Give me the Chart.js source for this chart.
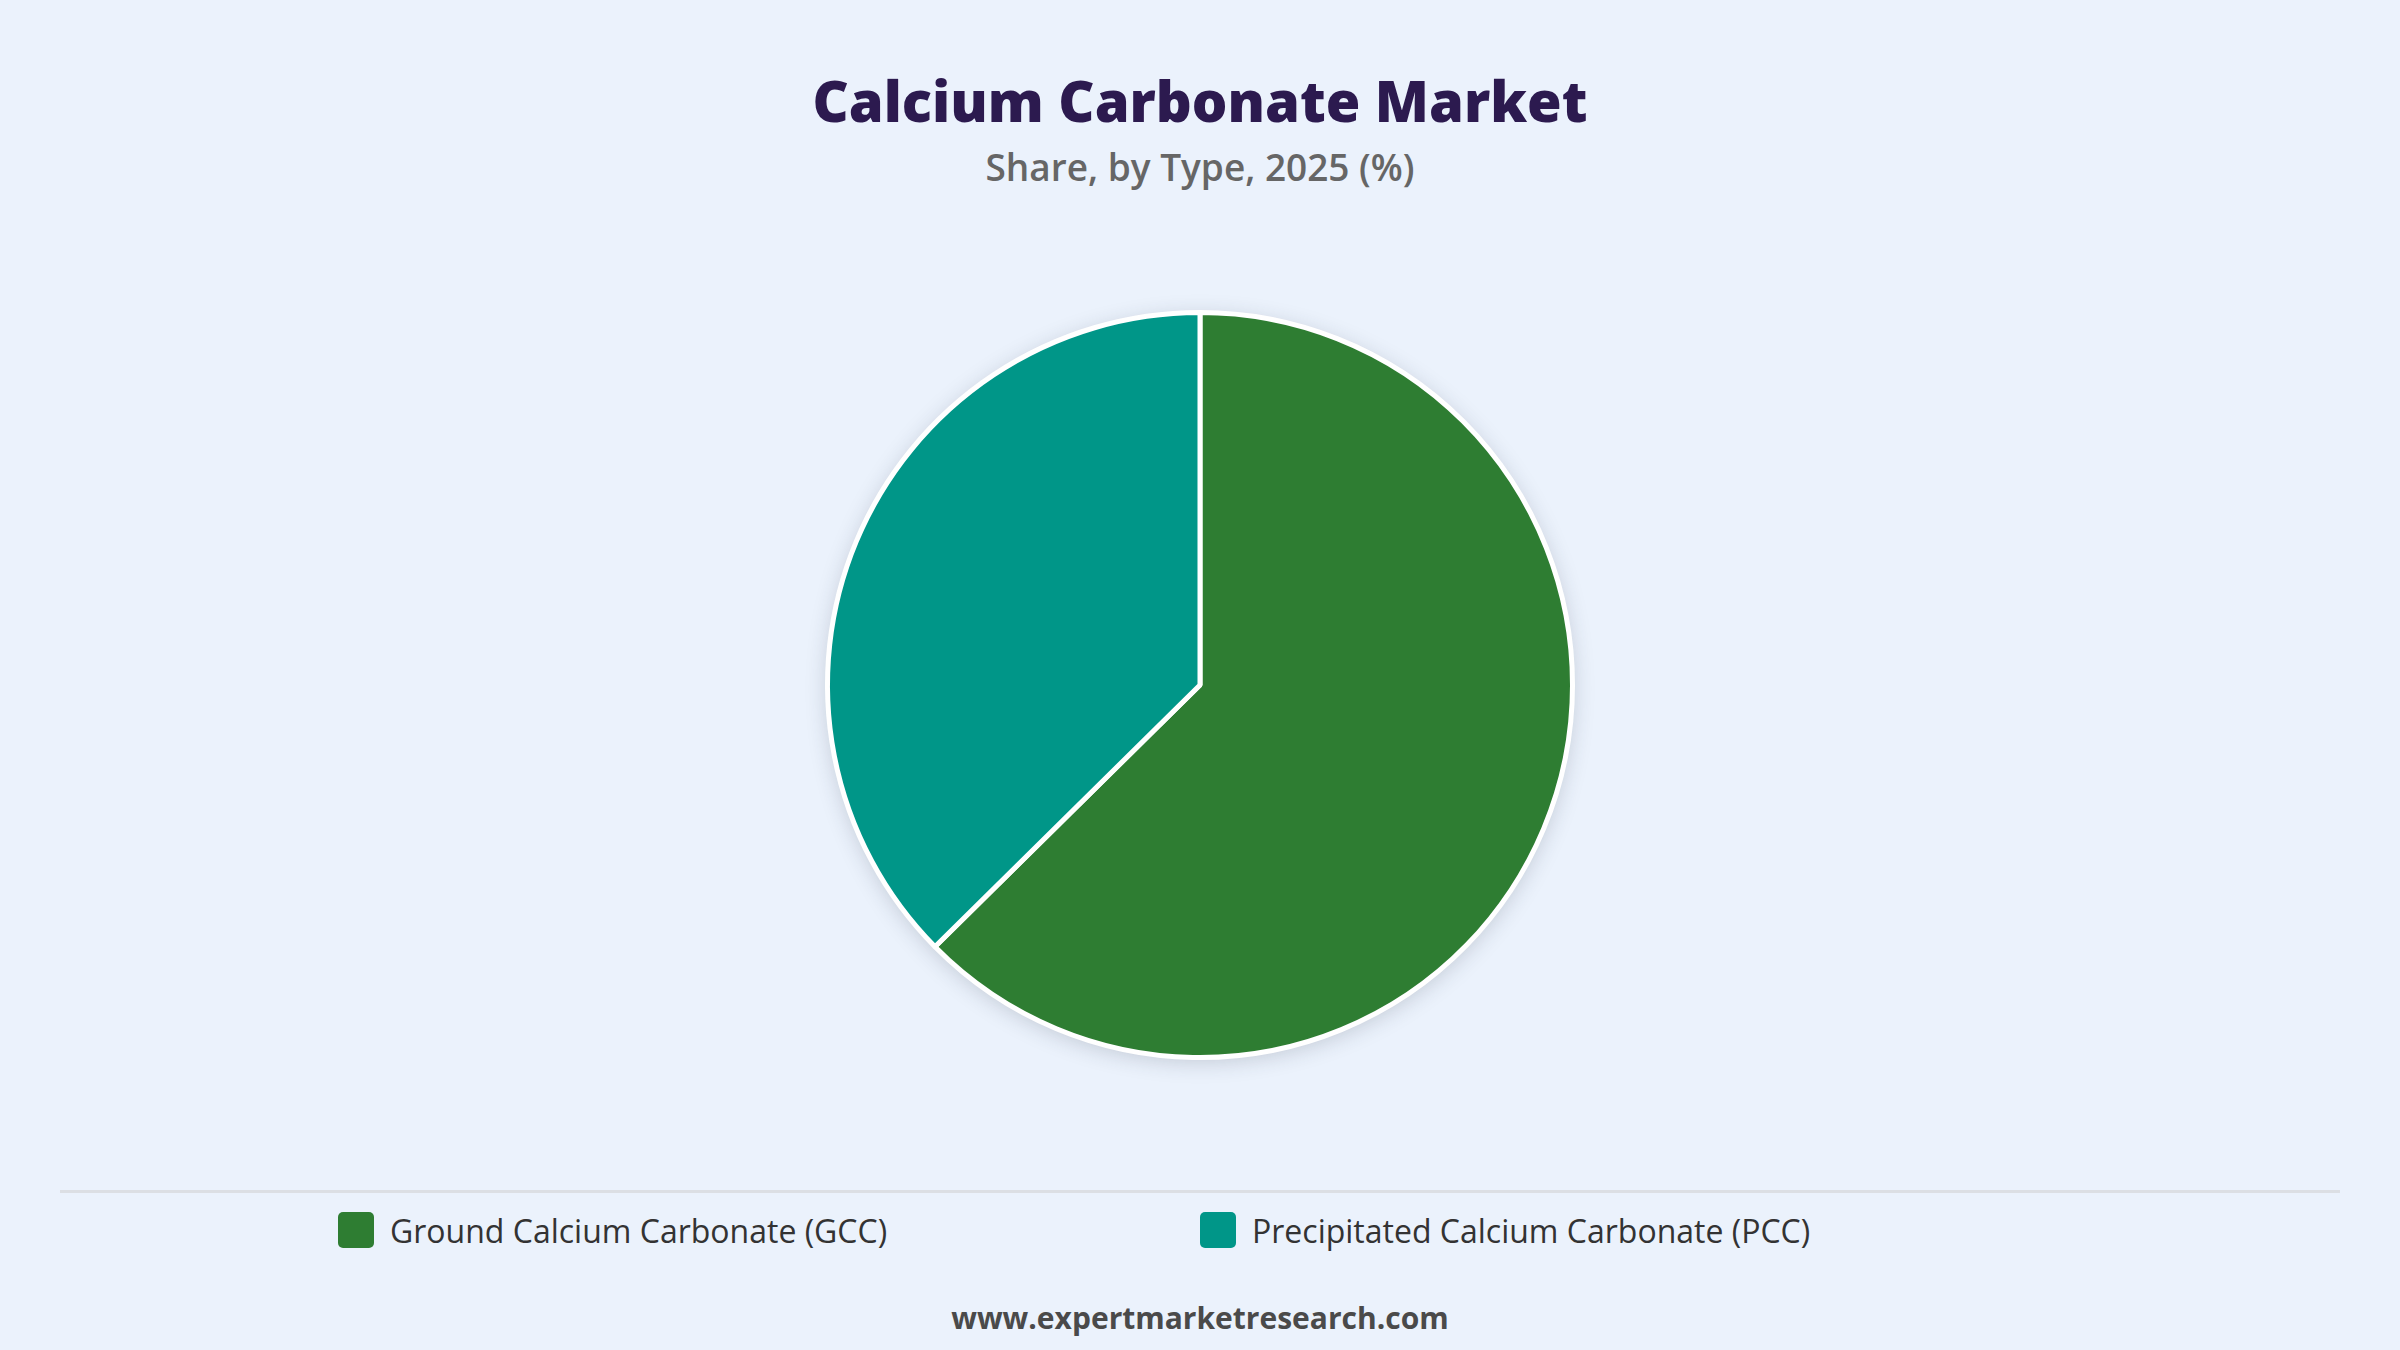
<!DOCTYPE html>
<html>
<head>
<meta charset="utf-8">
<script src="https://cdn.jsdelivr.net/npm/chart.js@4.4.1/dist/chart.umd.min.js"></script>
<style>
  html, body { margin: 0; padding: 0; }
  body {
    width: 2400px; height: 1350px; position: relative; overflow: hidden;
    background: #ebf2fc; font-family: "Open Sans", "Noto Sans", sans-serif;
  }
  .title {
    position: absolute; top: 60px; left: 0; width: 100%; text-align: center;
    font-size: 56px; font-weight: 800; color: #2c1a4f; line-height: 80px;
  }
  .subtitle {
    position: absolute; top: 142px; left: 0; width: 100%; text-align: center;
    font-size: 37px; font-weight: 600; color: #666; line-height: 50px;
  }
  .chart-box { position: absolute; left: 0; top: 280px; width: 2400px; height: 810px; }
  .divider { position: absolute; left: 60px; width: 2280px; top: 1190px; height: 3px; background: #dcdfe4; }
  .legend { position: absolute; top: 1208px; left: 0; width: 100%; height: 44px; }
  .legend-item { position: absolute; top: 0; display: flex; align-items: center; height: 44px;
    font-size: 32px; color: #333; }
  .legend-item span.box { width: 36px; height: 36px; border-radius: 5px; margin-right: 16px; display: inline-block; }
  .footer {
    position: absolute; top: 1297px; left: 0; width: 100%; text-align: center;
    font-size: 30px; font-weight: 700; color: #4a4a4a;
  }
</style>
</head>
<body>
<div class="title">Calcium Carbonate Market</div>
<div class="subtitle">Share, by Type, 2025 (%)</div>
<div class="chart-box"><canvas id="pie"></canvas></div>
<div class="divider"></div>
<div class="legend" id="legend"></div>
<div class="footer">www.expertmarketresearch.com</div>

<script>
var categories = ["Ground Calcium Carbonate (GCC)", "Precipitated Calcium Carbonate (PCC)"];
var shares = [62.6, 37.4];
var colors = ["#2e7d32", "#009688"];
var legendLeft = [338, 1200];

// soft shadow behind the pie, taken from the arc geometry
var pieShadow = {
  id: "pieShadow",
  beforeDatasetsDraw: function(chart){
    var arc = chart.getDatasetMeta(0).data[0];
    if(!arc) return;
    var ctx = chart.ctx;
    ctx.save();
    ctx.shadowColor = "rgba(40,50,70,0.22)";
    ctx.shadowBlur = 22;
    ctx.shadowOffsetY = 4;
    ctx.fillStyle = "#ffffff";
    ctx.beginPath();
    ctx.arc(arc.x, arc.y, arc.outerRadius, 0, Math.PI * 2);
    ctx.fill();
    ctx.restore();
  }
};

document.addEventListener('DOMContentLoaded', function(){
  new Chart(document.querySelector("#pie"), {
    type: "pie",
    data: {
      labels: categories,
      datasets: [{
        data: shares,
        backgroundColor: colors,
        borderColor: "#ffffff",
        borderWidth: 5,
        hoverOffset: 0
      }]
    },
    options: {
      responsive: true,
      maintainAspectRatio: false,
      animation: false,
      layout: { padding: 30 },
      plugins: {
        legend: { display: false },
        tooltip: { enabled: false }
      }
    },
    plugins: [pieShadow]
  });

  var legend = document.querySelector("#legend");
  for(var i = 0; i < categories.length; i++){
    var item = `
      <div class="legend-item" style="left:${legendLeft[i]}px">
        <span class="box" style="background-color:${colors[i]}"></span>${categories[i]}
      </div>`;
    legend.insertAdjacentHTML("beforeend", item);
  }
});
</script>
</body>
</html>
